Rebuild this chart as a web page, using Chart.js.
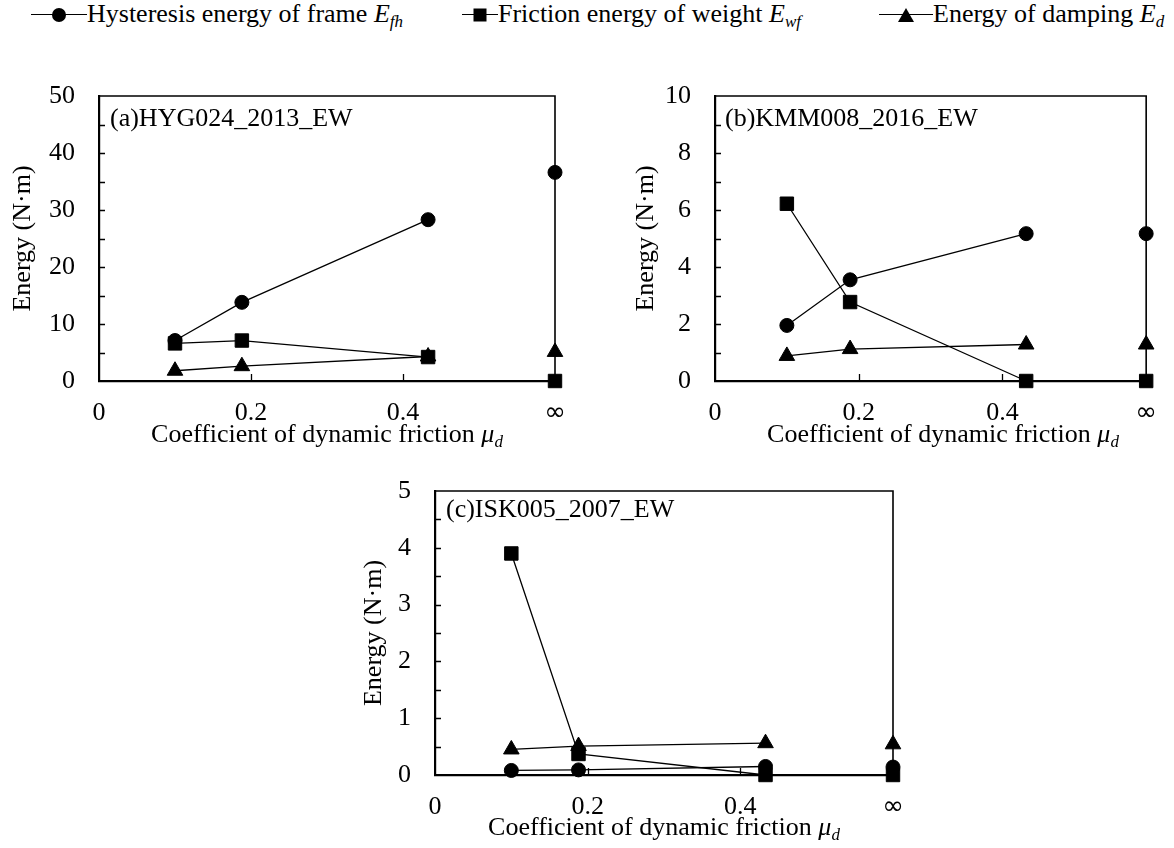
<!DOCTYPE html>
<html>
<head>
<meta charset="utf-8">
<script src="https://cdn.jsdelivr.net/npm/chart.js@4.4.1/dist/chart.umd.min.js"></script>
<style>
  html, body { margin: 0; padding: 0; background: #fff; }
  body { width: 1174px; height: 848px; position: relative; overflow: hidden; color: #000;
         font-family: "Liberation Serif", "Times New Roman", serif; }
  canvas { position: absolute; display: block; }
  .txt { position: absolute; font-size: 26px; line-height: 26px; white-space: nowrap; }
  .xtitle { transform: translateX(-50%); }
  sub { font-size: 17px; line-height: 0; vertical-align: -5px; }
  .key { position: absolute; top: 1px; height: 26px; display: flex; align-items: center; }
  .swatch { position: relative; height: 26px; }
  .swatch::before { content: ''; position: absolute; left: 0; right: 0; top: 13px; border-top: 1.3px solid #000; }
  .swatch b { position: absolute; left: 50%; top: 14px; transform: translate(-50%, -50%); background: #000; }
  .dot { width: 14px; height: 14px; border-radius: 50%; }
  .sq { width: 13px; height: 13px; }
  .tri { width: 0 !important; height: 0 !important; background: none !important;
         border-left: 8px solid transparent; border-right: 8px solid transparent; border-bottom: 14px solid #000; }
</style>
</head>
<body>

<div class="key" style="left:31px"><span class="swatch" style="width:56px"><b class="dot"></b></span>
  <span class="txt" style="position:static">Hysteresis energy of frame <i>E</i><sub><i>fh</i></sub></span></div>
<div class="key" style="left:462px"><span class="swatch" style="width:36px"><b class="sq"></b></span>
  <span class="txt" style="position:static">Friction energy of weight <i>E</i><sub><i>wf</i></sub></span></div>
<div class="key" style="left:879px"><span class="swatch" style="width:54px"><b class="tri"></b></span>
  <span class="txt" style="position:static">Energy of damping <i>E</i><sub><i>d</i></sub></span></div>

<canvas id="chartA" width="600" height="395" style="left:0;top:50px"></canvas>
<canvas id="chartB" width="574" height="395" style="left:600px;top:50px"></canvas>
<canvas id="chartC" width="600" height="403" style="left:340px;top:445px"></canvas>

<div class="txt" style="left:110px;top:105px">(a)HYG024_2013_EW</div>
<div class="txt" style="left:725px;top:105px">(b)KMM008_2016_EW</div>
<div class="txt" style="left:446px;top:496px">(c)ISK005_2007_EW</div>

<div class="txt xtitle" style="left:327px;top:421px">Coefficient of dynamic friction <i>μ<sub>d</sub></i></div>
<div class="txt xtitle" style="left:943px;top:421px">Coefficient of dynamic friction <i>μ<sub>d</sub></i></div>
<div class="txt xtitle" style="left:664px;top:814px">Coefficient of dynamic friction <i>μ<sub>d</sub></i></div>

<script>
// coefficient of dynamic friction (last case = no sliding, plotted at the ∞ tick)
const mu = [0.1, 0.188, 0.433, Infinity];
const xMax = 0.6;
const xTickLabels = ['0', '0.2', '0.4', '∞'];

// (a) HYG024_2013_EW
const frameA = [7.1, 13.8, 28.3, 36.6];
const weightA = [6.6, 7.1, 4.2, 0];
const dampingA = [1.8, 2.6, 4.3, 5.1];

// (b) KMM008_2016_EW
const frameB = [1.95, 3.55, 5.17, 5.17];
const weightB = [6.22, 2.77, 0, 0];
const dampingB = [0.88, 1.12, 1.28, 1.28];

// (c) ISK005_2007_EW
const frameC = [0.08, 0.09, 0.15, 0.14];
const weightC = [3.9, 0.37, 0, 0];
const dampingC = [0.45, 0.51, 0.56, 0.54];

// y axis: max, minor tick step, labelled step
const yAxisA = [50, 5, 10];
const yAxisB = [10, 1, 2];
const yAxisC = [5, 0.5, 1];

const FONT = '"Liberation Serif", "Times New Roman", serif';

// inward tick marks plus the top/right frame of the plot box
const boxTicks = {
  id: 'boxTicks',
  beforeDatasetsDraw(chart) {
    const { ctx, chartArea: a, scales: { x, y } } = chart;
    ctx.save();
    ctx.strokeStyle = '#000';
    ctx.lineWidth = 1.3;
    ctx.beginPath();
    y.ticks.forEach(t => {
      if (t.value <= y.min || t.value >= y.max) return;
      const py = Math.round(y.getPixelForValue(t.value)) + 0.5;
      ctx.moveTo(a.left, py);
      ctx.lineTo(a.left + 6, py);
    });
    x.ticks.forEach(t => {
      if (t.value <= x.min || t.value >= x.max - 1e-9) return;
      const px = Math.round(x.getPixelForValue(t.value)) + 0.5;
      ctx.moveTo(px, a.bottom);
      ctx.lineTo(px, a.bottom - 7);
    });
    ctx.stroke();
    ctx.lineWidth = 1.6;
    ctx.beginPath();
    ctx.moveTo(a.left, a.top);
    ctx.lineTo(a.right, a.top);
    ctx.lineTo(a.right, a.bottom);
    ctx.stroke();
    ctx.restore();
  }
};

function points(values) {
  return values.map((v, i) => ({ x: isFinite(mu[i]) ? mu[i] : xMax, y: v }));
}

function series(values, style, radius, order) {
  return {
    data: points(values),
    borderColor: '#000',
    backgroundColor: '#000',
    borderWidth: 1.3,
    pointStyle: style,
    pointRadius: radius,
    pointBorderWidth: 1,
    pointBackgroundColor: '#000',
    pointBorderColor: '#000',
    clip: false,
    order: order,
    // the ∞ case is not joined to the finite-friction cases
    segment: { borderColor: ctx => ctx.p1DataIndex === mu.length - 1 ? 'rgba(0,0,0,0)' : '#000' }
  };
}

function makePanel(id, frame, weight, damping, yAxis, g) {
  const [yMax, yStep, yLabelStep] = yAxis;
  new Chart(document.getElementById(id), {
    type: 'line',
    data: {
      datasets: [
        series(frame, 'circle', 7, 3),
        series(weight, 'rect', 9.5, 2),
        series(damping, 'triangle', 9, 1)
      ]
    },
    options: {
      responsive: false,
      animation: false,
      layout: { autoPadding: false, padding: { left: 0, top: g.padTop, right: g.padRight, bottom: 0 } },
      plugins: { legend: { display: false }, tooltip: { enabled: false } },
      scales: {
        x: {
          type: 'linear',
          min: 0,
          max: xMax,
          afterFit: s => { s.height = g.xAxisH; },
          grid: { display: false, drawTicks: false },
          border: { display: true, color: '#000', width: 2.2 },
          ticks: {
            stepSize: 0.2,
            autoSkip: false,
            maxRotation: 0,
            padding: 17,
            color: '#000',
            font: ctx => ctx.index === 3
              ? { family: '"DejaVu Sans", sans-serif', size: 26 }
              : { family: FONT, size: 26 },
            callback: (v, i) => xTickLabels[i]
          }
        },
        y: {
          min: 0,
          max: yMax,
          afterFit: s => { s.width = g.yAxisW; },
          grid: { display: false, drawTicks: false },
          border: { display: true, color: '#000', width: 2.2 },
          ticks: {
            stepSize: yStep,
            autoSkip: false,
            padding: 24,
            color: '#000',
            font: { family: FONT, size: 26 },
            callback: v => {
              const k = v / yLabelStep;
              return Math.abs(k - Math.round(k)) < 1e-6 ? String(Math.round(v * 10) / 10) : '';
            }
          },
          title: {
            display: true,
            text: 'Energy (N·m)',
            color: '#000',
            font: { family: FONT, size: 26 },
            padding: { top: g.titlePad, bottom: 0 }
          }
        }
      }
    },
    plugins: [boxTicks]
  });
}

makePanel('chartA', frameA, weightA, dampingA, yAxisA,
  { padTop: 46, padRight: 45, xAxisH: 64, yAxisW: 99, titlePad: 7.4 });
makePanel('chartB', frameB, weightB, dampingB, yAxisB,
  { padTop: 46, padRight: 3, xAxisH: 64, yAxisW: 115, titlePad: 30.4 });
makePanel('chartC', frameC, weightC, dampingC, yAxisC,
  { padTop: 46, padRight: 47, xAxisH: 73, yAxisW: 95, titlePad: 18.4 });
</script>
</body>
</html>
